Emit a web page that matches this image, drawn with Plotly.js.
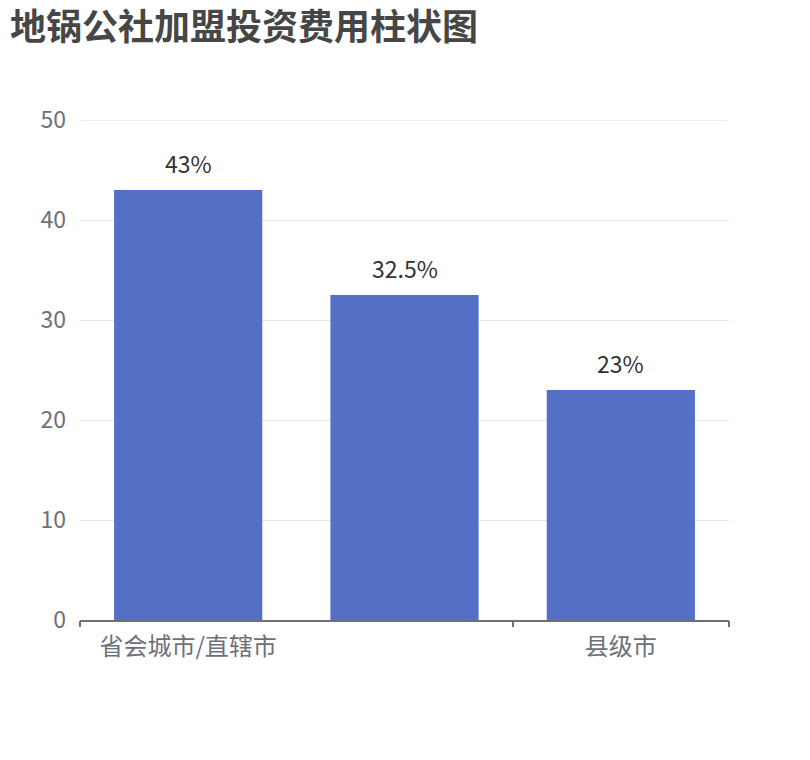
<!DOCTYPE html>
<html>
<head>
<meta charset="utf-8">
<script src="https://cdn.plot.ly/plotly-3.0.1.min.js"></script>
<style>
  html, body { margin: 0; padding: 0; background: #fff; }
  #chart { width: 810px; height: 760px; }
</style>
</head>
<body>
<div id="chart"></div>
<script>
// 加盟投资费用（单位：%）
const categories = ['省会城市/直辖市', '地级市', '县级市'];
const shownLabels = ['省会城市/直辖市', '', '县级市'];
const values = [43, 32.5, 23];
const yTicks = [0, 10, 20, 30, 40, 50];

const FONT = '"Noto Sans CJK SC", "Noto Sans", sans-serif';
const GRID = '#E0E6F1';

const bars = {
    type: 'bar',
    x: categories,
    y: values,
    marker: { color: '#5470c6' },
    hoverinfo: 'x+y'
};

// second axis only to draw the ticks on category boundaries (middle one hidden)
const tickAxis = {
    type: 'scatter',
    x: [-0.5, 2.5],
    y: [0, 0],
    xaxis: 'x2',
    mode: 'none',
    hoverinfo: 'skip',
    showlegend: false
};

// value labels above the bars
const labels = categories.map((c, i) => ({
    x: c,
    y: values[i],
    xref: 'x',
    yref: 'y',
    text: values[i] + '%',
    showarrow: false,
    yanchor: 'bottom',
    yshift: 8,
    font: { family: FONT, size: 23, color: '#333333' }
}));

// plotly drops the grid line sitting on the top edge, draw it by hand
const topGrid = {
    type: 'line',
    layer: 'below',
    xref: 'paper',
    yref: 'y',
    x0: 0,
    x1: 1,
    y0: yTicks[yTicks.length - 1],
    y1: yTicks[yTicks.length - 1],
    line: { color: GRID, width: 1.2 }
};

const layout = {
    width: 810,
    height: 760,
    margin: { l: 80, r: 81, t: 120, b: 140 },
    paper_bgcolor: '#ffffff',
    plot_bgcolor: '#ffffff',
    showlegend: false,
    bargap: 0.315,
    annotations: labels,
    shapes: [topGrid],
    title: {
        text: '<b>地锅公社加盟投资费用柱状图</b>',
        font: { family: FONT, size: 36, color: '#464646' },
        x: 10 / 810,
        xanchor: 'left',
        xref: 'container',
        y: 1 - 27 / 760,
        yanchor: 'middle',
        yref: 'container'
    },
    xaxis: {
        type: 'category',
        categoryorder: 'array',
        categoryarray: categories,
        tickvals: categories,
        ticktext: shownLabels,
        ticks: '',
        showgrid: false,
        showline: true,
        linecolor: '#6E7079',
        linewidth: 1.5,
        zeroline: false,
        tickfont: { family: FONT, size: 24, color: '#6E7079' },
        ticklabelstandoff: 4,
        fixedrange: true
    },
    xaxis2: {
        overlaying: 'x',
        range: [-0.5, 2.5],
        tickvals: [-0.5, 1.5, 2.5],
        ticks: 'outside',
        ticklen: 6,
        tickwidth: 1.5,
        tickcolor: '#6E7079',
        showticklabels: false,
        showgrid: false,
        zeroline: false,
        side: 'bottom',
        anchor: 'y',
        fixedrange: true
    },
    yaxis: {
        range: [0, 50],
        tickvals: yTicks,
        ticks: '',
        showline: false,
        gridcolor: GRID,
        gridwidth: 1.2,
        zeroline: false,
        tickfont: { family: FONT, size: 23, color: '#6E7079' },
        ticklabelstandoff: 13,
        fixedrange: true
    }
};

Plotly.newPlot('chart', [bars, tickAxis], layout, { displayModeBar: false, responsive: false });
</script>
</body>
</html>
